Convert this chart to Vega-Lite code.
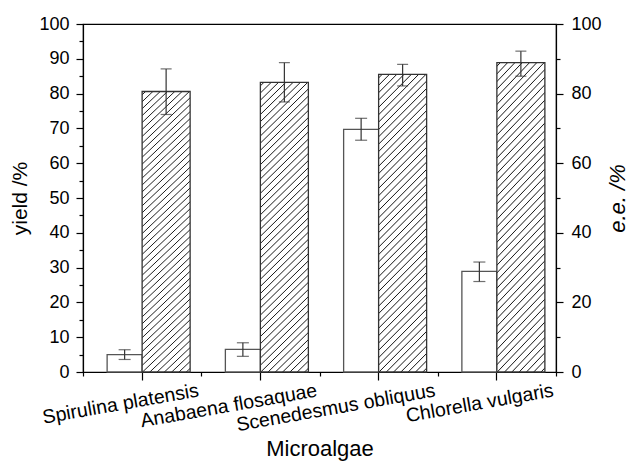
{
  "$schema": "https://vega.github.io/schema/vega-lite/v6.json",
  "width": 473,
  "height": 348,
  "autosize": {"type": "none"},
  "padding": {"left": 83, "top": 24, "right": 76, "bottom": 89},
  "background": "white",
  "config": {
    "view": {"stroke": "#000", "strokeWidth": 1.2},
    "font": "Liberation Sans",
    "axis": {
      "domainColor": "#000", "domainWidth": 1.2, "tickColor": "#000", "tickWidth": 1.2,
      "labelColor": "#000", "titleColor": "#000", "labelFont": "Liberation Sans", "titleFont": "Liberation Sans",
      "labelFontSize": 18, "titleFontSize": 21, "titleFontWeight": "normal", "grid": false
    }
  },
  "data": {
    "values": [
      {"name": "Spirulina platensis", "yield": 5.0, "ylo": 3.6, "yhi": 6.4, "ee": 80.6, "elo": 74.0, "ehi": 87.1},
      {"name": "Anabaena flosaquae", "yield": 6.5, "ylo": 4.5, "yhi": 8.4, "ee": 83.2, "elo": 77.6, "ehi": 88.9},
      {"name": "Scenedesmus obliquus", "yield": 69.7, "ylo": 66.6, "yhi": 72.9, "ee": 85.5, "elo": 82.2, "ehi": 88.4},
      {"name": "Chlorella vulgaris", "yield": 28.9, "ylo": 26.0, "yhi": 31.6, "ee": 88.9, "elo": 85.0, "ehi": 92.2}
    ]
  },
  "layer": [
    {
      "encoding": {
        "x": {
          "field": "name", "type": "nominal", "sort": null,
          "scale": {"paddingInner": 0, "paddingOuter": 0},
          "axis": {"orient": "bottom", "title": "Microalgae", "titleFontSize": 22, "labelAngle": -10, "labelAlign": "right", "labelBaseline": "top",
                   "labelOffset": 55, "labelPadding": 1, "labelFontSize": 19.5, "labelLimit": 0, "tickSize": 8, "labelOverlap": false,
                   "titleY": 83, "titleBaseline": "alphabetic"}
        }
      },
      "layer": [
        {
          "mark": {"type": "bar", "width": 35, "xOffset": -17.5, "fill": "#fff", "stroke": "#555", "strokeWidth": 1.3},
          "encoding": {
            "y": {"field": "yield", "type": "quantitative", "scale": {"domain": [0, 100], "nice": false},
                  "axis": {"orient": "left", "title": "yield /%", "values": [0,5,10,15,20,25,30,35,40,45,50,55,60,65,70,75,80,85,90,95,100],
                           "labelExpr": "datum.value % 10 === 0 ? datum.label : ''",
                           "tickSize": {"condition": {"test": "datum.value % 10 === 0", "value": 7}, "value": 4},
                           "labelPadding": 7, "titleX": -63, "titleBaseline": "middle"}}
          }
        },
        {
          "mark": {"type": "rule", "xOffset": -17.5, "color": "#333", "strokeWidth": 1.2},
          "encoding": {
            "y": {"field": "ylo", "type": "quantitative",
                  "axis": {"orient": "left", "title": "yield /%", "values": [0,5,10,15,20,25,30,35,40,45,50,55,60,65,70,75,80,85,90,95,100],
                           "labelExpr": "datum.value % 10 === 0 ? datum.label : ''",
                           "tickSize": {"condition": {"test": "datum.value % 10 === 0", "value": 7}, "value": 4},
                           "labelPadding": 7, "titleX": -63, "titleBaseline": "middle"}},
            "y2": {"field": "yhi"}
          }
        },
        {
          "mark": {"type": "tick", "orient": "horizontal", "xOffset": -17.5, "size": 12, "thickness": 1.2, "color": "#333"},
          "encoding": {
            "y": {"field": "ylo", "type": "quantitative",
                  "axis": {"orient": "left", "title": "yield /%", "values": [0,5,10,15,20,25,30,35,40,45,50,55,60,65,70,75,80,85,90,95,100],
                           "labelExpr": "datum.value % 10 === 0 ? datum.label : ''",
                           "tickSize": {"condition": {"test": "datum.value % 10 === 0", "value": 7}, "value": 4},
                           "labelPadding": 7, "titleX": -63, "titleBaseline": "middle"}}
          }
        },
        {
          "mark": {"type": "tick", "orient": "horizontal", "xOffset": -17.5, "size": 12, "thickness": 1.2, "color": "#333"},
          "encoding": {
            "y": {"field": "yhi", "type": "quantitative",
                  "axis": {"orient": "left", "title": "yield /%", "values": [0,5,10,15,20,25,30,35,40,45,50,55,60,65,70,75,80,85,90,95,100],
                           "labelExpr": "datum.value % 10 === 0 ? datum.label : ''",
                           "tickSize": {"condition": {"test": "datum.value % 10 === 0", "value": 7}, "value": 4},
                           "labelPadding": 7, "titleX": -63, "titleBaseline": "middle"}}
          }
        }
      ]
    },
    {
      "encoding": {
        "x": {
          "field": "name", "type": "nominal", "sort": null,
          "axis": {"orient": "bottom", "title": null, "labels": false, "domain": false, "tickBand": "extent", "tickSize": 4}
        }
      },
      "layer": [
        {
          "mark": {
            "type": "bar", "width": 48, "xOffset": 24, "stroke": "#333", "strokeWidth": 1.3,
            "fill": {
              "gradient": "linear", "x1": 0, "y1": 0, "x2": 0.1843, "y2": 1.1327,
              "stops": [
                {"offset": 0, "color": "#fff"},
                {"offset": 0.0070, "color": "#fff"}, {"offset": 0.0100, "color": "#1a1a1a"}, {"offset": 0.0130, "color": "#fff"},
                {"offset": 0.0283, "color": "#fff"}, {"offset": 0.0313, "color": "#1a1a1a"}, {"offset": 0.0343, "color": "#fff"},
                {"offset": 0.0496, "color": "#fff"}, {"offset": 0.0526, "color": "#1a1a1a"}, {"offset": 0.0556, "color": "#fff"},
                {"offset": 0.0708, "color": "#fff"}, {"offset": 0.0738, "color": "#1a1a1a"}, {"offset": 0.0768, "color": "#fff"},
                {"offset": 0.0921, "color": "#fff"}, {"offset": 0.0951, "color": "#1a1a1a"}, {"offset": 0.0981, "color": "#fff"},
                {"offset": 0.1134, "color": "#fff"}, {"offset": 0.1164, "color": "#1a1a1a"}, {"offset": 0.1194, "color": "#fff"},
                {"offset": 0.1347, "color": "#fff"}, {"offset": 0.1377, "color": "#1a1a1a"}, {"offset": 0.1407, "color": "#fff"},
                {"offset": 0.1560, "color": "#fff"}, {"offset": 0.1590, "color": "#1a1a1a"}, {"offset": 0.1620, "color": "#fff"},
                {"offset": 0.1772, "color": "#fff"}, {"offset": 0.1802, "color": "#1a1a1a"}, {"offset": 0.1832, "color": "#fff"},
                {"offset": 0.1985, "color": "#fff"}, {"offset": 0.2015, "color": "#1a1a1a"}, {"offset": 0.2045, "color": "#fff"},
                {"offset": 0.2198, "color": "#fff"}, {"offset": 0.2228, "color": "#1a1a1a"}, {"offset": 0.2258, "color": "#fff"},
                {"offset": 0.2411, "color": "#fff"}, {"offset": 0.2441, "color": "#1a1a1a"}, {"offset": 0.2471, "color": "#fff"},
                {"offset": 0.2624, "color": "#fff"}, {"offset": 0.2654, "color": "#1a1a1a"}, {"offset": 0.2684, "color": "#fff"},
                {"offset": 0.2836, "color": "#fff"}, {"offset": 0.2866, "color": "#1a1a1a"}, {"offset": 0.2896, "color": "#fff"},
                {"offset": 0.3049, "color": "#fff"}, {"offset": 0.3079, "color": "#1a1a1a"}, {"offset": 0.3109, "color": "#fff"},
                {"offset": 0.3262, "color": "#fff"}, {"offset": 0.3292, "color": "#1a1a1a"}, {"offset": 0.3322, "color": "#fff"},
                {"offset": 0.3475, "color": "#fff"}, {"offset": 0.3505, "color": "#1a1a1a"}, {"offset": 0.3535, "color": "#fff"},
                {"offset": 0.3688, "color": "#fff"}, {"offset": 0.3718, "color": "#1a1a1a"}, {"offset": 0.3748, "color": "#fff"},
                {"offset": 0.3900, "color": "#fff"}, {"offset": 0.3930, "color": "#1a1a1a"}, {"offset": 0.3960, "color": "#fff"},
                {"offset": 0.4113, "color": "#fff"}, {"offset": 0.4143, "color": "#1a1a1a"}, {"offset": 0.4173, "color": "#fff"},
                {"offset": 0.4326, "color": "#fff"}, {"offset": 0.4356, "color": "#1a1a1a"}, {"offset": 0.4386, "color": "#fff"},
                {"offset": 0.4539, "color": "#fff"}, {"offset": 0.4569, "color": "#1a1a1a"}, {"offset": 0.4599, "color": "#fff"},
                {"offset": 0.4752, "color": "#fff"}, {"offset": 0.4782, "color": "#1a1a1a"}, {"offset": 0.4812, "color": "#fff"},
                {"offset": 0.4964, "color": "#fff"}, {"offset": 0.4994, "color": "#1a1a1a"}, {"offset": 0.5024, "color": "#fff"},
                {"offset": 0.5177, "color": "#fff"}, {"offset": 0.5207, "color": "#1a1a1a"}, {"offset": 0.5237, "color": "#fff"},
                {"offset": 0.5390, "color": "#fff"}, {"offset": 0.5420, "color": "#1a1a1a"}, {"offset": 0.5450, "color": "#fff"},
                {"offset": 0.5603, "color": "#fff"}, {"offset": 0.5633, "color": "#1a1a1a"}, {"offset": 0.5663, "color": "#fff"},
                {"offset": 0.5816, "color": "#fff"}, {"offset": 0.5846, "color": "#1a1a1a"}, {"offset": 0.5876, "color": "#fff"},
                {"offset": 0.6028, "color": "#fff"}, {"offset": 0.6058, "color": "#1a1a1a"}, {"offset": 0.6088, "color": "#fff"},
                {"offset": 0.6241, "color": "#fff"}, {"offset": 0.6271, "color": "#1a1a1a"}, {"offset": 0.6301, "color": "#fff"},
                {"offset": 0.6454, "color": "#fff"}, {"offset": 0.6484, "color": "#1a1a1a"}, {"offset": 0.6514, "color": "#fff"},
                {"offset": 0.6667, "color": "#fff"}, {"offset": 0.6697, "color": "#1a1a1a"}, {"offset": 0.6727, "color": "#fff"},
                {"offset": 0.6880, "color": "#fff"}, {"offset": 0.6910, "color": "#1a1a1a"}, {"offset": 0.6940, "color": "#fff"},
                {"offset": 0.7092, "color": "#fff"}, {"offset": 0.7122, "color": "#1a1a1a"}, {"offset": 0.7152, "color": "#fff"},
                {"offset": 0.7305, "color": "#fff"}, {"offset": 0.7335, "color": "#1a1a1a"}, {"offset": 0.7365, "color": "#fff"},
                {"offset": 0.7518, "color": "#fff"}, {"offset": 0.7548, "color": "#1a1a1a"}, {"offset": 0.7578, "color": "#fff"},
                {"offset": 0.7731, "color": "#fff"}, {"offset": 0.7761, "color": "#1a1a1a"}, {"offset": 0.7791, "color": "#fff"},
                {"offset": 0.7944, "color": "#fff"}, {"offset": 0.7974, "color": "#1a1a1a"}, {"offset": 0.8004, "color": "#fff"},
                {"offset": 0.8156, "color": "#fff"}, {"offset": 0.8186, "color": "#1a1a1a"}, {"offset": 0.8216, "color": "#fff"},
                {"offset": 0.8369, "color": "#fff"}, {"offset": 0.8399, "color": "#1a1a1a"}, {"offset": 0.8429, "color": "#fff"},
                {"offset": 0.8582, "color": "#fff"}, {"offset": 0.8612, "color": "#1a1a1a"}, {"offset": 0.8642, "color": "#fff"},
                {"offset": 0.8795, "color": "#fff"}, {"offset": 0.8825, "color": "#1a1a1a"}, {"offset": 0.8855, "color": "#fff"},
                {"offset": 0.9008, "color": "#fff"}, {"offset": 0.9038, "color": "#1a1a1a"}, {"offset": 0.9068, "color": "#fff"},
                {"offset": 0.9220, "color": "#fff"}, {"offset": 0.9250, "color": "#1a1a1a"}, {"offset": 0.9280, "color": "#fff"},
                {"offset": 0.9433, "color": "#fff"}, {"offset": 0.9463, "color": "#1a1a1a"}, {"offset": 0.9493, "color": "#fff"},
                {"offset": 0.9646, "color": "#fff"}, {"offset": 0.9676, "color": "#1a1a1a"}, {"offset": 0.9706, "color": "#fff"},
                {"offset": 0.9859, "color": "#fff"}, {"offset": 0.9889, "color": "#1a1a1a"}, {"offset": 0.9919, "color": "#fff"},
                {"offset": 1, "color": "#fff"}
              ]
            }
          },
          "encoding": {
            "y": {"field": "ee", "type": "quantitative", "scale": {"domain": [0, 100], "nice": false},
                  "axis": {"orient": "right", "title": "e.e. /%", "titleFontStyle": "italic", "titleFontSize": 22, "titleAngle": 270,
                           "values": [0,10,20,30,40,50,60,70,80,90,100],
                           "labelExpr": "datum.value % 20 === 0 ? datum.label : ''",
                           "tickSize": {"condition": {"test": "datum.value % 20 === 0", "value": 7}, "value": 4},
                           "labelPadding": 8, "titleX": 61, "titleBaseline": "middle"}}
          }
        },
        {
          "mark": {"type": "rule", "xOffset": 24, "color": "#333", "strokeWidth": 1.2},
          "encoding": {
            "y": {"field": "elo", "type": "quantitative",
                  "axis": {"orient": "right", "title": "e.e. /%", "titleFontStyle": "italic", "titleFontSize": 22, "titleAngle": 270,
                           "values": [0,10,20,30,40,50,60,70,80,90,100],
                           "labelExpr": "datum.value % 20 === 0 ? datum.label : ''",
                           "tickSize": {"condition": {"test": "datum.value % 20 === 0", "value": 7}, "value": 4},
                           "labelPadding": 8, "titleX": 61, "titleBaseline": "middle"}},
            "y2": {"field": "ehi"}
          }
        },
        {
          "mark": {"type": "tick", "orient": "horizontal", "xOffset": 24, "size": 11, "thickness": 1.2, "color": "#333"},
          "encoding": {
            "y": {"field": "elo", "type": "quantitative",
                  "axis": {"orient": "right", "title": "e.e. /%", "titleFontStyle": "italic", "titleFontSize": 22, "titleAngle": 270,
                           "values": [0,10,20,30,40,50,60,70,80,90,100],
                           "labelExpr": "datum.value % 20 === 0 ? datum.label : ''",
                           "tickSize": {"condition": {"test": "datum.value % 20 === 0", "value": 7}, "value": 4},
                           "labelPadding": 8, "titleX": 61, "titleBaseline": "middle"}}
          }
        },
        {
          "mark": {"type": "tick", "orient": "horizontal", "xOffset": 24, "size": 11, "thickness": 1.2, "color": "#333"},
          "encoding": {
            "y": {"field": "ehi", "type": "quantitative",
                  "axis": {"orient": "right", "title": "e.e. /%", "titleFontStyle": "italic", "titleFontSize": 22, "titleAngle": 270,
                           "values": [0,10,20,30,40,50,60,70,80,90,100],
                           "labelExpr": "datum.value % 20 === 0 ? datum.label : ''",
                           "tickSize": {"condition": {"test": "datum.value % 20 === 0", "value": 7}, "value": 4},
                           "labelPadding": 8, "titleX": 61, "titleBaseline": "middle"}}
          }
        }
      ]
    }
  ],
  "resolve": {"scale": {"y": "independent"}, "axis": {"x": "independent"}}
}
